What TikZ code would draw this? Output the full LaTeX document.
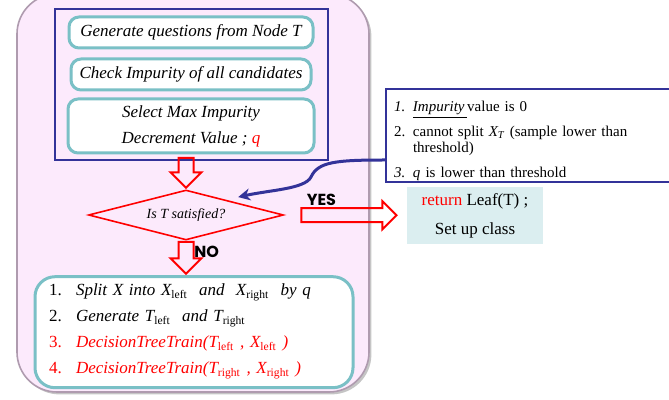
\documentclass[tikz,border=0pt]{standalone}
\usepackage{fontspec}
\setmainfont{Liberation Serif}
\newfontfamily\labelfont{Poppins}
\usepackage{xcolor}
\usepackage{tikz}
\usetikzlibrary{shapes.geometric, shapes.arrows, arrows.meta, positioning, calc, shadows}
\definecolor{panelpink}{RGB}{252,234,252}
\definecolor{paneledge}{RGB}{175,155,175}
\definecolor{mynavy}{RGB}{51,51,153}
\definecolor{myteal}{RGB}{122,192,198}
\definecolor{leafblue}{RGB}{219,238,240}
\newcommand{\lowtext}[1]{\textsubscript{\upshape\fontsize{5.8}{6}\selectfont #1}}
\tikzstyle{stepbox} = [rounded corners=5pt, draw=myteal, line width=1.5pt, fill=white, align=center, font=\fontsize{8.5}{13}\selectfont\itshape, inner sep=2pt]
\tikzstyle{blockarrow} = [single arrow, draw=red, line width=1pt, inner sep=3.25pt, single arrow head extend=4pt, single arrow head indent=0pt, minimum width=0pt]
\tikzstyle{yesno} = [font=\labelfont\bfseries\fontsize{8}{9}\selectfont, inner sep=0pt]

\begin{document}
\begin{tikzpicture}[x=0.5pt, y=-0.5pt, >=Stealth]
\useasboundingbox (0,0) rectangle (669,400);

% pink panel behind the loop
\filldraw[fill=panelpink, draw=paneledge, line width=0.8pt, rounded corners=20pt,
drop shadow={shadow xshift=1.2pt, shadow yshift=-1.2pt, fill=black!45}]
(17,-6) rectangle (369,392);

\node[stepbox, minimum width=122pt, minimum height=15.5pt] (gen) at (191,32.5) {Generate questions from Node T};
\node[stepbox, minimum width=120pt, minimum height=15.5pt, below=4pt of gen] (check) {Check Impurity of all candidates};
\node[stepbox, minimum width=123pt, minimum height=27pt, below=3pt of check] (select) {Select Max Impurity\\Decrement Value ; \textcolor{red}{q}};
\node[draw=mynavy, line width=1pt, minimum width=136.5pt, minimum height=75.5pt] (search) at (191.5,84.5) {};

\node[
diamond,
draw=red,
line width=0.8pt,
aspect=4,
minimum width=97.5pt,
minimum height=25pt,
inner sep=1pt,
font=\fontsize{7}{8}\selectfont\itshape
] (cond) at (186,215) {Is T satisfied?};

\node[blockarrow, rotate=-90, minimum height=15pt, anchor=tip] (down1) at (cond.north) {};
\node[blockarrow, rotate=-90, minimum height=16pt, anchor=tail] (down2) at (cond.south) {};
\node[yesno, right=4pt of down2.center, yshift=1pt] (no) {NO};

\node[stepbox, rounded corners=10pt, text width=145pt, inner xsep=7pt, inner ysep=0.5pt, minimum height=55.5pt,
align=left, anchor=north] (split) at ($(down2.tip)+(8,0)$) {%
\begin{tabular}{@{}p{13.5pt}@{}l@{}}
\upshape 1. & Split X into X\lowtext{left}~ and~ X\lowtext{right}~ by q\\
\upshape 2. & Generate T\lowtext{left}~ and T\lowtext{right}\\
\textcolor{red}{\upshape 3.} & \textcolor{red}{DecisionTreeTrain(T\lowtext{left} , X\lowtext{left} )}\\
\textcolor{red}{\upshape 4.} & \textcolor{red}{DecisionTreeTrain(T\lowtext{right} , X\lowtext{right} )}\\[2.5pt]
\end{tabular}};

\node[
draw=mynavy,
line width=1pt,
fill=white,
anchor=west,
minimum height=44.5pt,
text width=135pt,
inner xsep=4pt,
inner ysep=0pt,
align=left,
font=\fontsize{7.5}{8}\selectfont
] (reasons) at (385,135.5) {%
\begin{tabular}{@{}p{9.5pt}@{}p{125pt}@{}}
\rule{0pt}{11.5pt}\textit{1.} & \underline{\textit{Impurity}\,}value is 0\\[4.5pt]
2. & cannot split \textit{X\textsubscript{T}} (sample lower than\newline threshold)\\[4.5pt]
\textit{3.} & \textit{q} is lower than threshold
\end{tabular}};

\node[fill=leafblue, minimum width=68pt, minimum height=25.5pt, align=center,
font=\fontsize{8.5}{14.5}\selectfont] (leaf) at (475,215.5) {\textcolor{red}{return} Leaf(T) ;\\Set up class};

\node[blockarrow, minimum height=47.5pt, inner sep=3pt, single arrow head extend=3.5pt] (yesarrow) at ($(cond.east)!0.5!(leaf.west)$) {};
\node[yesno, anchor=south west] (yes) at ($(yesarrow.tail)+(6,-9)$) {YES};

% back to the test
\coordinate (bend) at ($(reasons.west)+(0,24.5)$);
\coordinate (hit) at ($(cond.north east)+(3,-5)$);
\draw[-{Stealth[length=6pt,width=6pt]}, mynavy, line width=1.5pt]
(bend) .. controls (335,160) and (318,162) .. (311,177)
.. controls (305,189) and (270,190) .. (hit);
\end{tikzpicture}
\end{document}
